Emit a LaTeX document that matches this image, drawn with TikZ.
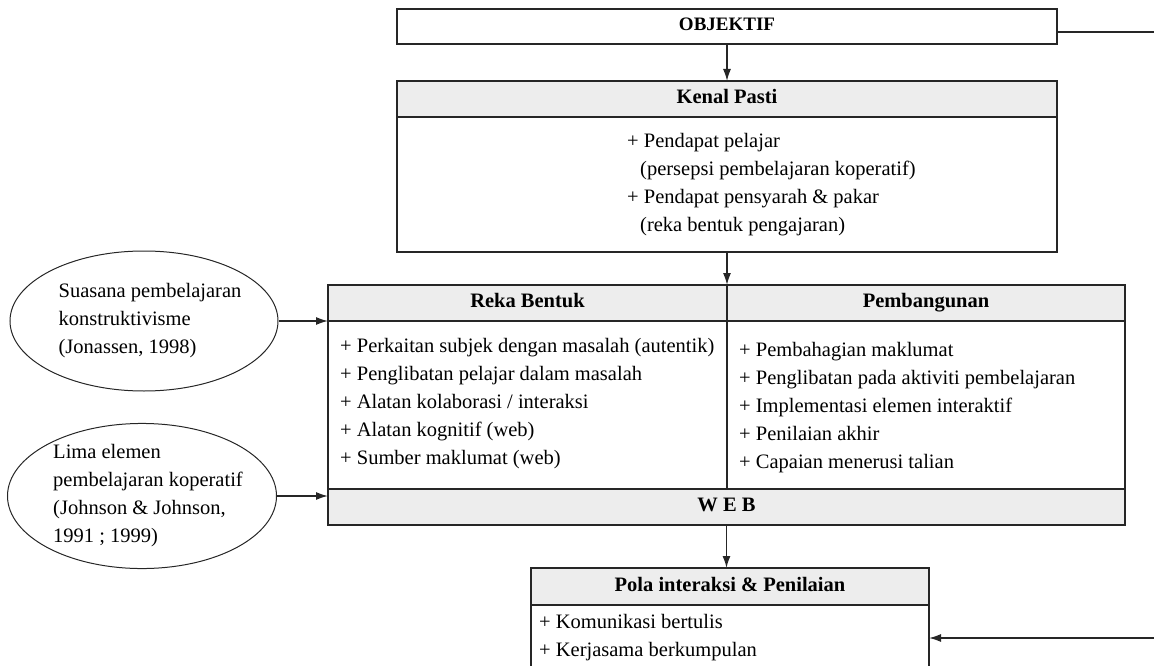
\documentclass[tikz,border=0pt]{standalone}
\usepackage{fontspec}
\setmainfont{Liberation Serif}
\usetikzlibrary{shapes.geometric,arrows.meta,positioning}

\begin{document}
\begin{tikzpicture}[x=1pt,y=-1pt,
		every node/.style={font=\fontsize{20.5}{28}\selectfont},
		box/.style={draw=black!85,line width=2pt,rectangle,inner sep=0pt,outer sep=0pt},
		head/.style={box,fill=black!7,text height=14pt,text depth=4.5pt,font=\fontsize{20.5}{28}\selectfont\bfseries},
		items/.style={align=left,inner sep=0pt,anchor=west},
		oval/.style={draw=black!85,ellipse,line width=1pt,inner ysep=0pt,inner xsep=-12pt,align=left},
		arr/.style={line width=1.5pt,draw=black!85,-{Latex[length=12pt,width=8pt]}}]
		\useasboundingbox (0,0) rectangle (1154,666);
		\clip (0,0) rectangle (1154,666);
		%
		\node[box,minimum width=660pt,minimum height=35pt,text height=13pt,text depth=4pt,font=\fontsize{19}{24}\selectfont\bfseries] (obj) at (727,26.5) {OBJEKTIF};
		\node[head,minimum width=660pt,minimum height=36pt] (kphead) at (727,99) {Kenal Pasti};
		\node[box,minimum width=660pt,minimum height=135pt,below=0pt of kphead] (kpbody) {};
		\node[items] (kplist) at (627,184.5) {+ Pendapat pelajar\\\hspace*{13pt}(persepsi pembelajaran koperatif)\\+ Pendapat pensyarah \& pakar\\\hspace*{13pt}(reka bentuk pengajaran)};
		%
		\node[head,minimum width=399pt,minimum height=36pt] (rkhead) at (527.5,303) {Reka Bentuk};
		\node[head,minimum width=398pt,minimum height=36pt,right=0pt of rkhead] (pbhead) {Pembangunan};
		\node[box,minimum width=399pt,minimum height=168pt,below=0pt of rkhead] (rkbody) {};
		\node[box,minimum width=398pt,minimum height=168pt,below=0pt of pbhead] (pbbody) {};
		\node[head,minimum width=797pt,minimum height=36pt,anchor=north west] (web) at (rkbody.south west) {W E B};
		\node[items] (rklist) at (340,404) {+ Perkaitan subjek dengan masalah (autentik)\\+ Penglibatan pelajar dalam masalah\\+ Alatan kolaborasi / interaksi\\+ Alatan kognitif (web)\\+ Sumber maklumat (web)};
		\node[items] (pblist) at (739,408) {+ Pembahagian maklumat\\+ Penglibatan pada aktiviti pembelajaran\\+ Implementasi elemen interaktif\\+ Penilaian akhir\\+ Capaian menerusi talian};
		%
		\node[head,minimum width=398pt,minimum height=37pt] (polahead) at (730,586.5) {Pola interaksi \& Penilaian};
		\node[box,minimum width=398pt,minimum height=100pt,below=0pt of polahead] (polabody) {};
		\node[items] (polalist) at (539,638) {+ Komunikasi bertulis\\+ Kerjasama berkumpulan};
		%
		\node[oval,minimum width=268pt,minimum height=140pt] (suasana) at (144,321) {\hspace*{12pt}Suasana pembelajaran\\\hspace*{12pt}konstruktivisme\\\hspace*{12pt}(Jonassen, 1998)};
		\node[oval,minimum width=269pt,minimum height=142pt] (lima) at (142,496) {\hspace*{12pt}Lima elemen\\\hspace*{12pt}pembelajaran koperatif\\\hspace*{12pt}(Johnson \& Johnson,\\\hspace*{12pt}1991 ; 1999)};
		%
		\coordinate (objout) at (1154,32);
		\coordinate (polain) at (1154,638);
		\draw[arr] (obj) -- (kphead);
		\draw[arr] (kpbody.south) -- (rkhead.north east);
		\draw[arr] (suasana.east) -- (suasana.east -| rkhead.west);
		\draw[arr] (lima.east) -- (lima.east -| web.west);
		\draw[arr] (web.south) -- (web.south |- polahead.north);
		\draw[line width=1.5pt,draw=black!85] (objout -| obj.east) -- (objout);
		\draw[arr] (polain) -- (polain -| polabody.east);
\end{tikzpicture}
\end{document}
